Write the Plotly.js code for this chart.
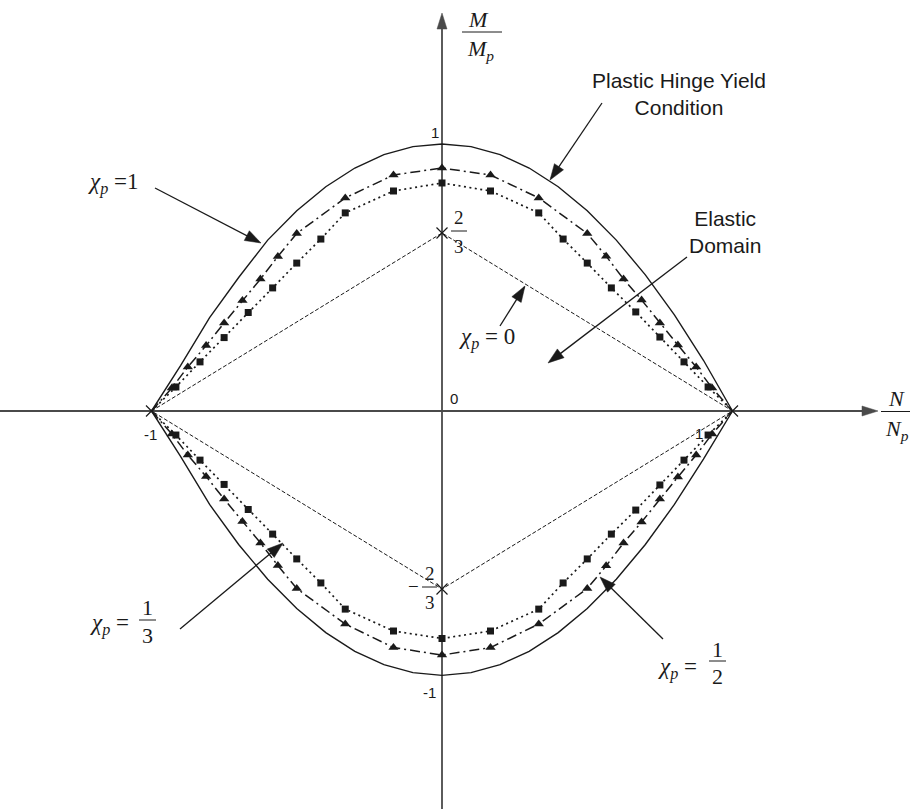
<!DOCTYPE html>
<html>
<head>
<meta charset="utf-8">
<script src="https://cdn.plot.ly/plotly-3.0.1.min.js"></script>
<style>html,body{margin:0;padding:0;background:#fff}</style>
</head>
<body>
<div id="chart" style="width:910px;height:809px"></div>
<script>
// ---- Interaction diagram: normalised axial force N/Np against moment M/Mp ----

// Plastic hinge yield condition (chi_p = 1)
const yieldN      = [-1, -0.9, -0.8, -0.7, -0.6, -0.5, -0.4, -0.3, -0.2, -0.1, 0, 0.1, 0.2, 0.3, 0.4, 0.5, 0.6, 0.7, 0.8, 0.9, 1];
const yieldUpperM = [0, 0.17, 0.35, 0.5, 0.64, 0.75, 0.84, 0.91, 0.96, 0.99, 1.0, 0.99, 0.96, 0.91, 0.84, 0.75, 0.64, 0.51, 0.36, 0.19, 0];
const yieldLowerM = [0, -0.17, -0.35, -0.5, -0.63, -0.74, -0.83, -0.9, -0.95, -0.98, -0.99, -0.98, -0.95, -0.9, -0.83, -0.74, -0.63, -0.5, -0.35, -0.18, 0];

// chi_p = 1/2 (triangles)
const halfN      = [-1, -0.93, -0.875, -0.812, -0.75, -0.687, -0.625, -0.565, -0.5, -0.333, -0.167, 0, 0.167, 0.333, 0.5, 0.565, 0.625, 0.687, 0.75, 0.812, 0.875, 0.93, 1];
const halfUpperM = [0, 0.086, 0.165, 0.245, 0.33, 0.414, 0.494, 0.579, 0.665, 0.798, 0.884, 0.91, 0.884, 0.798, 0.665, 0.58, 0.494, 0.416, 0.33, 0.247, 0.165, 0.086, 0];
const halfLowerM = [0, -0.086, -0.165, -0.245, -0.33, -0.414, -0.494, -0.579, -0.665, -0.798, -0.886, -0.914, -0.886, -0.798, -0.665, -0.58, -0.494, -0.416, -0.33, -0.247, -0.165, -0.086, 0];

// chi_p = 1/3 (squares)
const thirdN      = [-1, -0.916, -0.833, -0.75, -0.667, -0.583, -0.5, -0.417, -0.333, -0.167, 0, 0.167, 0.333, 0.417, 0.5, 0.583, 0.667, 0.75, 0.833, 0.916, 1];
const thirdUpperM = [0, 0.09, 0.184, 0.275, 0.369, 0.461, 0.554, 0.644, 0.742, 0.824, 0.854, 0.824, 0.742, 0.644, 0.554, 0.461, 0.371, 0.277, 0.184, 0.09, 0];
const thirdLowerM = [0, -0.09, -0.184, -0.275, -0.369, -0.461, -0.554, -0.644, -0.742, -0.824, -0.852, -0.824, -0.742, -0.644, -0.554, -0.461, -0.371, -0.277, -0.184, -0.09, 0];

// chi_p = 0 (elastic limit, rhombus)
const elasticN = [-1, 0, 1, 0, -1];
const elasticM = [0, 2/3, 0, -2/3, 0];

// Axis tick labels
const tickLabels = ['1', '-1', '0', '-1', '1'];

// ---- geometry helpers (pixel -> paper) ----
const W = 910, H = 809;
const PX0 = 442, PY0 = 411, SX = 290.5, SY = 267;
const px = x => x / W;
const py = y => 1 - y / H;

const ink = '#1a1a1a';
const axisInk = '#4a4a4a';

function line(x0, y0, x1, y1, color, width, layer) {
  return {type: 'line', xref: 'paper', yref: 'paper',
          x0: px(x0), y0: py(y0), x1: px(x1), y1: py(y1),
          line: {color: color, width: width}, layer: layer || 'above'};
}
function head(xt, yt, xf, yf, len, hw, color, layer) {
  const dx = xt - xf, dy = yt - yf, d = Math.hypot(dx, dy);
  const ux = dx / d, uy = dy / d;
  const bx = xt - ux * len, by = yt - uy * len;
  const p1 = [bx - uy * hw, by + ux * hw], p2 = [bx + uy * hw, by - ux * hw];
  const path = `M${px(xt)},${py(yt)} L${px(p1[0])},${py(p1[1])} L${px(p2[0])},${py(p2[1])} Z`;
  return {type: 'path', xref: 'paper', yref: 'paper', path: path,
          fillcolor: color, line: {color: color, width: 0.5}, layer: layer || 'above'};
}
function pointer(x0, y0, x1, y1) {
  return [line(x0, y0, x1 - (x1 - x0) * 0.02, y1 - (y1 - y0) * 0.02, ink, 1.3), head(x1, y1, x0, y0, 16, 5.5, ink)];
}

// ---- traces ----
const traces = [];
function curve(n, m, dash, width) {
  traces.push({x: n, y: m, type: 'scatter', mode: 'lines',
               line: {color: ink, width: width, dash: dash}, hoverinfo: 'skip'});
}
function marks(n, m, symbol, size) {
  traces.push({x: n.slice(1, -1), y: m.slice(1, -1), type: 'scatter', mode: 'markers',
               marker: {symbol: symbol, size: size, color: ink}, hoverinfo: 'skip'});
}

curve(elasticN, elasticM, '4px,2px', 1);
curve(yieldN, yieldUpperM, 'solid', 1.4);
curve(yieldN, yieldLowerM, 'solid', 1.4);
curve(halfN, halfUpperM, '10px,4px,2px,4px', 1.5);
curve(halfN, halfLowerM, '10px,4px,2px,4px', 1.5);
curve(thirdN, thirdUpperM, '2px,3.5px', 1.7);
curve(thirdN, thirdLowerM, '2px,3.5px', 1.7);
marks(halfN, halfUpperM, 'triangle-up', 9);
marks(halfN, halfLowerM, 'triangle-up', 9);
marks(thirdN, thirdUpperM, 'square', 7);
marks(thirdN, thirdLowerM, 'square', 7);

// vertices of the elastic rhombus
traces.push({x: elasticN.slice(0, 4), y: elasticM.slice(0, 4), type: 'scatter', mode: 'markers',
             marker: {symbol: 'x-thin', size: 11, color: ink, line: {color: ink, width: 1.2}},
             hoverinfo: 'skip'});

// ---- shapes: axes, pointers, fraction bars ----
const shapes = [
  line(0, PY0, 872, PY0, axisInk, 1.8, 'below'),
  head(878, PY0, 0, PY0, 16, 5, axisInk, 'below'),
  line(PX0, H, PX0, 18, axisInk, 1.8, 'below'),
  head(PX0, 13, PX0, H, 16, 5, axisInk, 'below'),
  ...pointer(155, 188, 261, 243),   // chi_p = 1
  ...pointer(602, 103, 550, 180),   // yield condition
  ...pointer(687, 257, 548, 363),   // elastic domain
  ...pointer(500, 326, 525, 286),   // chi_p = 0
  ...pointer(180, 629, 283, 543),   // chi_p = 1/3
  ...pointer(663, 639, 600, 577),   // chi_p = 1/2
  line(462, 32, 502, 32, ink, 1),    // M / Mp
  line(881, 411.5, 910, 411.5, ink, 1), // N / Np
  line(451, 231, 467, 231, ink, 1),  // 2/3
  line(422, 587, 437, 587, ink, 1),  // -2/3
  line(139, 620, 156, 620, ink, 1),  // 1/3
  line(709, 661, 726, 661, ink, 1)   // 1/2
];

// ---- annotations ----
const serif = 'Liberation Serif, Times New Roman, serif';
const sans = 'Liberation Sans, Arial, sans-serif';
function txt(x, y, text, size, family, xanchor) {
  return {xref: 'paper', yref: 'paper', x: px(x), y: py(y), text: text, showarrow: false,
          xanchor: xanchor || 'center', yanchor: 'middle', align: 'center',
          font: {family: family, size: size, color: ink}};
}
const chi = '<i>χ</i><sub><i>p</i></sub>';
const annotations = [
  txt(435, 132, tickLabels[0], 15, sans),
  txt(429, 692, tickLabels[1], 15, sans),
  txt(454, 398, tickLabels[2], 15, sans),
  txt(150, 434, tickLabels[3], 15, sans),
  txt(699, 433, tickLabels[4], 15, sans),

  txt(478, 19, '<i>M</i>', 22, serif),
  txt(480, 50, '<i>M</i><sub><i>p</i></sub>', 22, serif),
  txt(896, 398, '<i>N</i>', 22, serif),
  txt(897, 430, '<i>N</i><sub><i>p</i></sub>', 22, serif),

  txt(459, 217, '2', 19, serif),
  txt(459, 246, '3', 19, serif),
  txt(413, 586, '−', 19, serif),
  txt(430, 573, '2', 19, serif),
  txt(430, 602, '3', 19, serif),

  txt(86, 183, chi + ' =1', 23, serif, 'left'),
  txt(457, 338, chi + ' = 0', 23, serif, 'left'),
  txt(88, 624, chi + ' =', 23, serif, 'left'),
  txt(147, 607, '1', 22, serif),
  txt(147, 635, '3', 22, serif),
  txt(656, 668, chi + ' =', 23, serif, 'left'),
  txt(717, 649, '1', 22, serif),
  txt(717, 676, '2', 22, serif),

  txt(679, 94, 'Plastic Hinge Yield<br>Condition', 21, sans),
  txt(725, 232, 'Elastic<br>Domain', 21, sans)
];

const layout = {
  width: W, height: H,
  margin: {l: 0, r: 0, t: 0, b: 0, pad: 0},
  paper_bgcolor: '#ffffff', plot_bgcolor: '#ffffff',
  showlegend: false,
  xaxis: {visible: false, range: [-PX0 / SX, (W - PX0) / SX], fixedrange: true},
  yaxis: {visible: false, range: [(PY0 - H) / SY, PY0 / SY], fixedrange: true},
  shapes: shapes,
  annotations: annotations
};

Plotly.newPlot('chart', traces, layout, {staticPlot: true, displayModeBar: false});
</script>
</body>
</html>
